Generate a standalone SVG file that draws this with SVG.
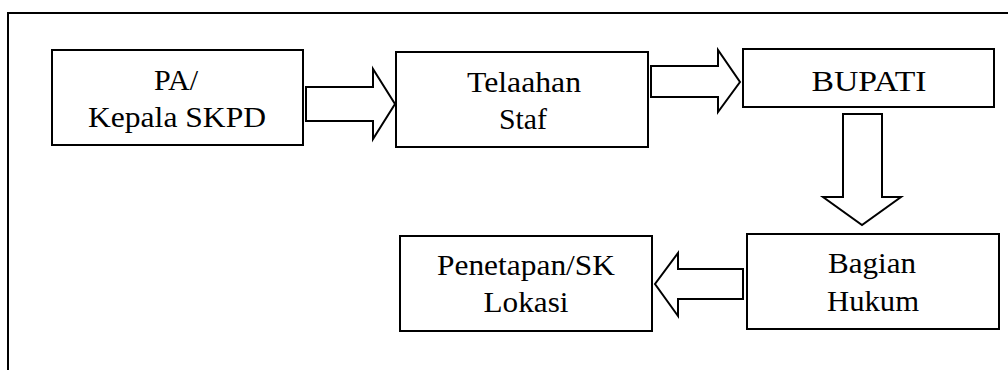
<svg xmlns="http://www.w3.org/2000/svg" width="1008" height="370" viewBox="0 0 1008 370">
<style>
.box{fill:#fff;stroke:#000;stroke-width:2}
.arr{fill:#fff;stroke:#000;stroke-width:2;stroke-linejoin:miter}
.t{font-family:"Liberation Serif","Times New Roman",serif;font-size:29px;fill:#000;text-anchor:middle}
</style>
<rect width="1008" height="370" fill="#fff"/>
<path d="M8,372 V13 H1010" fill="none" stroke="#000" stroke-width="2"/>
<g id="connectors">
<path class="arr" d="M306,87 H373 V69 L395,104 L373,139 V121 H306 Z"/>
<path class="arr" d="M651,66 H718 V50 L740,82 L718,112 V97 H651 Z"/>
<path class="arr" d="M843,114 H882 V197 H901 L862,225 L823,197 H843 Z"/>
<path class="arr" d="M743,269 H678 V253 L655,284 L678,316 V299 H743 Z"/>
</g>
<g id="node-pa">
<rect class="box" x="52" y="50" width="251" height="95"/>
<text class="t" x="176" y="90" textLength="44" lengthAdjust="spacingAndGlyphs">PA/</text>
<text class="t" x="177" y="127" textLength="178" lengthAdjust="spacingAndGlyphs">Kepala SKPD</text>
</g>
<g id="node-telaahan">
<rect class="box" x="396" y="52" width="252" height="95"/>
<text class="t" x="524" y="92" textLength="114" lengthAdjust="spacingAndGlyphs">Telaahan</text>
<text class="t" x="523" y="129" textLength="48" lengthAdjust="spacingAndGlyphs">Staf</text>
</g>
<g id="node-bupati">
<rect class="box" x="743" y="49" width="251" height="58"/>
<text class="t" x="869" y="91" textLength="115" lengthAdjust="spacingAndGlyphs">BUPATI</text>
</g>
<g id="node-hukum">
<rect class="box" x="747" y="234" width="252" height="95"/>
<text class="t" x="872" y="273" textLength="88" lengthAdjust="spacingAndGlyphs">Bagian</text>
<text class="t" x="873" y="311" textLength="92" lengthAdjust="spacingAndGlyphs">Hukum</text>
</g>
<g id="node-penetapan">
<rect class="box" x="400" y="236" width="252" height="95"/>
<text class="t" x="526" y="275" textLength="178" lengthAdjust="spacingAndGlyphs">Penetapan/SK</text>
<text class="t" x="526" y="312" textLength="85" lengthAdjust="spacingAndGlyphs">Lokasi</text>
</g>
</svg>
